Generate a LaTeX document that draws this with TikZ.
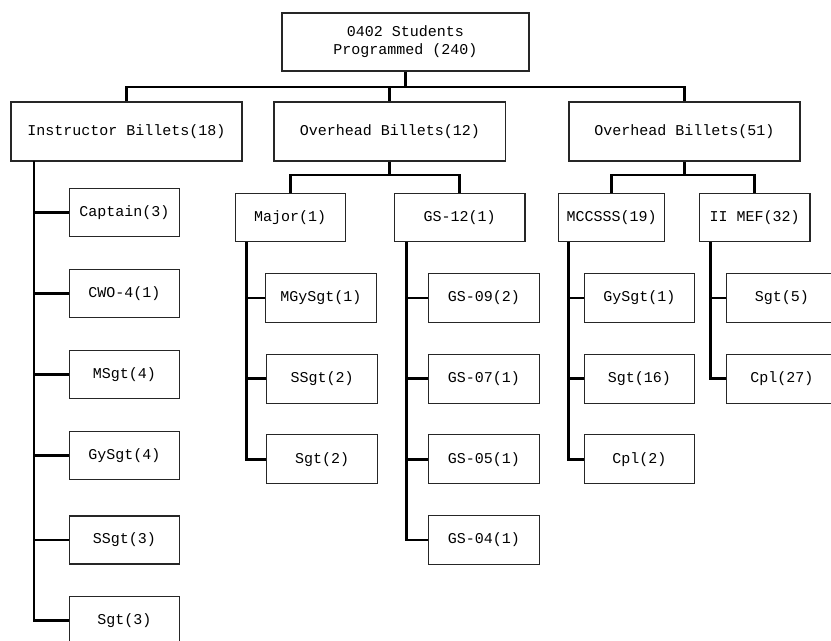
\documentclass[tikz,border=0pt]{standalone}
\usepackage{fontspec}
\setmonofont{Liberation Mono}
\begin{document}
\begin{tikzpicture}[x=0.75pt,y=-0.75pt,
  box/.style 2 args={draw=black!85, line width=1pt, fill=white, inner sep=0pt,
    minimum width=#1*0.75pt, minimum height=#2*0.75pt, align=center,
    font=\ttfamily\fontsize{11.25}{13.5}\selectfont},
  conn/.style={draw=black, line width=2pt}]
\useasboundingbox (0,0) rectangle (831,641);
% top
\node[box={247}{58}] (top) at (405.5,42) {0402 Students\\Programmed (240)};
% level 2
\node[box={231}{59}] (instr) at (126.5,131.5) {Instructor Billets(18)};
\node[box={231.7}{59}] (ovA) at (389.8,131.5) {Overhead Billets(12)};
\node[box={231}{59}] (ovB) at (684.5,131.5) {Overhead Billets(51)};
% instructor children
\node[box={110}{48}] (capt) at (124.5,212.7) {Captain(3)};
\node[box={110}{48}] (cwo) at (124.5,293.5) {CWO-4(1)};
\node[box={110}{48}] (msgt) at (124.5,374.2) {MSgt(4)};
\node[box={110}{48}] (gysgtA) at (124.5,455.2) {GySgt(4)};
\node[box={110}{48}] (ssgtA) at (124.5,540) {SSgt(3)};
\node[box={110}{48}] (sgtA) at (124.5,620.7) {Sgt(3)};
% level 3
\node[box={110}{48.4}] (major) at (290.2,217.5) {Major(1)};
\node[box={130.7}{48.4}] (gs12) at (459.7,217.5) {GS-12(1)};
\node[box={105.6}{48.4}] (mccsss) at (611.5,217.5) {MCCSSS(19)};
\node[box={110.7}{48.4}] (iimef) at (754.7,217.5) {II MEF(32)};
% major children
\node[box={111}{49}] (mgysgt) at (320.8,298) {MGySgt(1)};
\node[box={111}{49}] (ssgtB) at (322.2,378.8) {SSgt(2)};
\node[box={111}{49}] (sgtB) at (322.2,459.2) {Sgt(2)};
% GS-12 children
\node[box={111}{49}] (gs09) at (483.8,298) {GS-09(2)};
\node[box={111}{49}] (gs07) at (483.8,378.8) {GS-07(1)};
\node[box={111}{49}] (gs05) at (483.8,459.2) {GS-05(1)};
\node[box={111}{49}] (gs04) at (483.8,540) {GS-04(1)};
% MCCSSS children
\node[box={110}{49}] (gysgtC) at (639.3,298) {GySgt(1)};
\node[box={110}{49}] (sgtC) at (639.3,378.8) {Sgt(16)};
\node[box={110}{49}] (cplC) at (639.3,459.2) {Cpl(2)};
% II MEF children
\node[box={110}{49}] (sgtD) at (781.8,298) {Sgt(5)};
\node[box={110}{49}] (cplD) at (781.8,378.8) {Cpl(27)};

% connectors: top to level 2
\draw[conn] (top.south) -- (top.south |- 0,87);
\draw[conn] (instr.north) -- (instr.north |- 0,87) -- (ovB.north |- 0,87) -- (ovB.north);
\draw[conn] (ovA.north) -- (ovA.north |- 0,87);
% level 2 to level 3
\draw[conn] (ovA.south) -- (ovA.south |- 0,175);
\draw[conn] (major.north) -- (major.north |- 0,175) -- (gs12.north |- 0,175) -- (gs12.north);
\draw[conn] (ovB.south) -- (ovB.south |- 0,175);
\draw[conn] (mccsss.north) -- (mccsss.north |- 0,175) -- (iimef.north |- 0,175) -- (iimef.north);
% spines
\coordinate (sI) at (34,161);
\coordinate (sM) at (246.7,241.7);
\coordinate (sG) at (406.7,241.7);
\coordinate (sC) at (568.3,241.7);
\coordinate (sE) at (710.7,241.7);
\draw[conn] (sI) |- (sgtA.west);
\foreach \n in {capt,cwo,msgt,gysgtA,ssgtA} \draw[conn] (\n.west) -- (\n.west -| sI);
\draw[conn] (sM) |- (sgtB.west);
\foreach \n in {mgysgt,ssgtB} \draw[conn] (\n.west) -- (\n.west -| sM);
\draw[conn] (sG) |- (gs04.west);
\foreach \n in {gs09,gs07,gs05} \draw[conn] (\n.west) -- (\n.west -| sG);
\draw[conn] (sC) |- (cplC.west);
\foreach \n in {gysgtC,sgtC} \draw[conn] (\n.west) -- (\n.west -| sC);
\draw[conn] (sE) |- (cplD.west);
\draw[conn] (sgtD.west) -- (sgtD.west -| sE);
\end{tikzpicture}
\end{document}
